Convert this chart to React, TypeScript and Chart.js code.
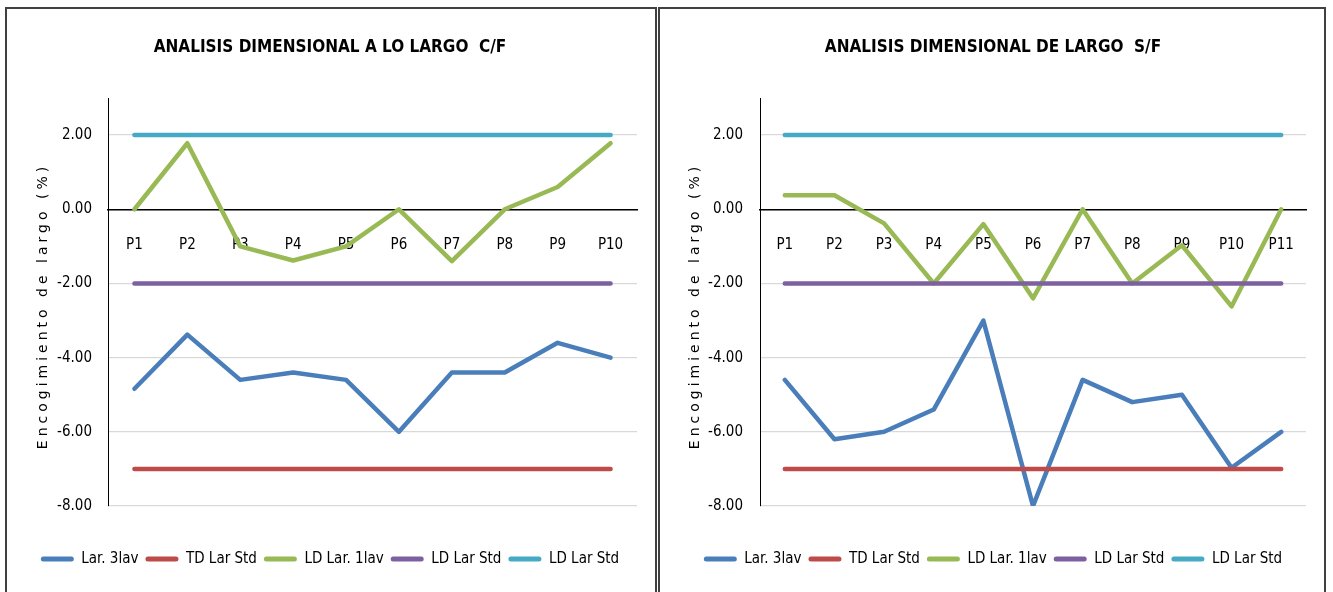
import React, { useEffect, useRef } from 'react';
import { Chart, registerables } from 'chart.js';

Chart.register(...registerables);

const NARROW = "'DejaVu Sans Condensed', 'Liberation Sans', sans-serif";

// ---- Chart 1: C/F ----
const titleCF = 'ANALISIS DIMENSIONAL A LO LARGO  C/F';
const categoriesCF = ['P1', 'P2', 'P3', 'P4', 'P5', 'P6', 'P7', 'P8', 'P9', 'P10'];
const lar3lavCF = [-4.84, -3.38, -4.6, -4.4, -4.6, -6.0, -4.4, -4.4, -3.6, -4.0];
const tdLarStdCF = [-7, -7, -7, -7, -7, -7, -7, -7, -7, -7];
const ldLar1lavCF = [0, 1.78, -1.0, -1.38, -1.0, 0, -1.4, 0, 0.6, 1.78];
const ldLarStdLowCF = [-2, -2, -2, -2, -2, -2, -2, -2, -2, -2];
const ldLarStdHighCF = [2, 2, 2, 2, 2, 2, 2, 2, 2, 2];

// ---- Chart 2: S/F ----
const titleSF = 'ANALISIS DIMENSIONAL DE LARGO  S/F';
const categoriesSF = ['P1', 'P2', 'P3', 'P4', 'P5', 'P6', 'P7', 'P8', 'P9', 'P10', 'P11'];
const lar3lavSF = [-4.6, -6.2, -6.0, -5.4, -3.0, -8.0, -4.6, -5.2, -5.0, -6.97, -6.0];
const tdLarStdSF = [-7, -7, -7, -7, -7, -7, -7, -7, -7, -7, -7];
const ldLar1lavSF = [0.38, 0.38, -0.38, -2.0, -0.4, -2.4, 0, -2.0, -0.97, -2.62, 0];
const ldLarStdLowSF = [-2, -2, -2, -2, -2, -2, -2, -2, -2, -2, -2];
const ldLarStdHighSF = [2, 2, 2, 2, 2, 2, 2, 2, 2, 2, 2];

const seriesNames = ['Lar. 3lav', 'TD Lar Std', 'LD Lar. 1lav', 'LD Lar Std', 'LD Lar Std'];
const seriesColors = ['#4A7EBB', '#BE4B48', '#98B954', '#7D60A0', '#46AAC5'];
const yAxisTitle = 'Encogimiento de largo (%)';
const yMin = -8;
const yMax = 3;
const yStep = 2;

const yTitlePlugin = {
  id: 'yTitleSpaced',
  afterDraw(chart: any, _args: any, opts: any) {
    const { ctx, chartArea } = chart;
    ctx.save();
    ctx.font = "14px 'DejaVu Sans', sans-serif";
    try { (ctx as any).letterSpacing = '4px'; } catch (e) { /* ignore */ }
    ctx.fillStyle = '#000';
    ctx.translate(opts.x, (chartArea.top + chartArea.bottom) / 2 + 4);
    ctx.rotate(-Math.PI / 2);
    ctx.textAlign = 'center';
    ctx.textBaseline = 'middle';
    ctx.fillText(opts.text, 0, 0);
    ctx.restore();
  },
};

interface PanelProps {
  title: string;
  categories: string[];
  series: number[][];
  width: number;
  height: number;
  padLeft: number;
  padRight: number;
  yWidth: number;
  yTickPad: number;
  yTitleX: number;
}

function ChartPanel(p: PanelProps) {
  const ref = useRef<HTMLCanvasElement | null>(null);
  useEffect(() => {
    if (!ref.current) return;
    const n = p.series.length;
    const chart = new Chart(ref.current, {
      type: 'line',
      data: {
        labels: p.categories,
        datasets: p.series.map((d, i) => ({
          label: seriesNames[i],
          data: d,
          borderColor: seriesColors[i],
          backgroundColor: seriesColors[i],
          borderWidth: 4.5,
          borderCapStyle: 'round' as const,
          borderJoinStyle: 'round' as const,
          pointRadius: 0,
          pointHoverRadius: 0,
          tension: 0,
          fill: false,
          order: n - i,
        })),
      },
      options: {
        responsive: false,
        animation: false,
        events: [],
        layout: { padding: { left: p.padLeft, right: p.padRight, top: 0, bottom: 15.5 } },
        scales: {
          x: {
            type: 'category',
            offset: true,
            position: { y: 0 } as any,
            grid: { display: false, drawTicks: false },
            border: { display: true, color: '#000', width: 1.5 },
            ticks: {
              font: { family: NARROW, size: 15 },
              color: '#000',
              padding: 27,
              maxRotation: 0,
              autoSkip: false,
            },
          },
          y: {
            type: 'linear',
            min: yMin,
            max: yMax,
            grid: { color: '#D9D9D9', lineWidth: 1.2, drawTicks: false },
            border: { display: true, color: '#000', width: 1 },
            ticks: {
              stepSize: yStep,
              includeBounds: false,
              font: { family: NARROW, size: 15 },
              color: '#000',
              padding: p.yTickPad,
              callback: (v: any) => Number(v).toFixed(2),
            },
            afterFit: (s: any) => { s.width = p.yWidth; },
          },
        },
        plugins: {
          title: {
            display: true,
            text: p.title,
            color: '#000',
            font: { family: NARROW, size: 17, weight: 'bold' },
            padding: { top: 28.6, bottom: 40 },
          },
          legend: {
            position: 'bottom',
            title: { display: true, text: ' ', font: { size: 10 }, padding: { top: 26.5, bottom: 0 } },
            labels: {
              font: { family: NARROW, size: 15 },
              color: '#000',
              boxWidth: 33,
              boxHeight: 5,
              padding: 7,
              generateLabels: (chart: any) =>
                chart.data.datasets.map((ds: any, i: number) => ({
                  text: ds.label,
                  fillStyle: ds.borderColor,
                  strokeStyle: ds.borderColor,
                  lineWidth: 0,
                  hidden: false,
                  datasetIndex: i,
                  fontColor: '#000',
                  borderRadius: 2.5,
                })),
            },
          },
          tooltip: { enabled: false },
          yTitleSpaced: { x: p.yTitleX, text: yAxisTitle },
        } as any,
      },
      plugins: [yTitlePlugin],
    });
    return () => chart.destroy();
  }, []);
  return <canvas ref={ref} width={p.width} height={p.height} style={{ display: 'block', width: p.width, height: p.height }} />;
}

export default function App() {
  const panelStyle = (left: number, width: number): React.CSSProperties => ({
    position: 'absolute',
    left,
    top: 7,
    width,
    height: 600,
    border: '2px solid #404040',
    background: '#fff',
    overflow: 'hidden',
  });
  return (
    <div style={{ position: 'fixed', left: 0, top: 0, width: 1333, height: 592, overflow: 'hidden', background: '#fff' }}>
      <div style={panelStyle(5, 648)}>
        <ChartPanel
          title={titleCF}
          categories={categoriesCF}
          series={[lar3lavCF, tdLarStdCF, ldLar1lavCF, ldLarStdLowCF, ldLarStdHighCF]}
          width={648}
          height={583}
          padLeft={16}
          padRight={18}
          yWidth={85}
          yTickPad={16}
          yTitleX={36}
        />
      </div>
      <div style={panelStyle(658, 664)}>
        <ChartPanel
          title={titleSF}
          categories={categoriesSF}
          series={[lar3lavSF, tdLarStdSF, ldLar1lavSF, ldLarStdLowSF, ldLarStdHighSF]}
          width={664}
          height={583}
          padLeft={20}
          padRight={18}
          yWidth={80}
          yTickPad={17}
          yTitleX={35}
        />
      </div>
    </div>
  );
}
